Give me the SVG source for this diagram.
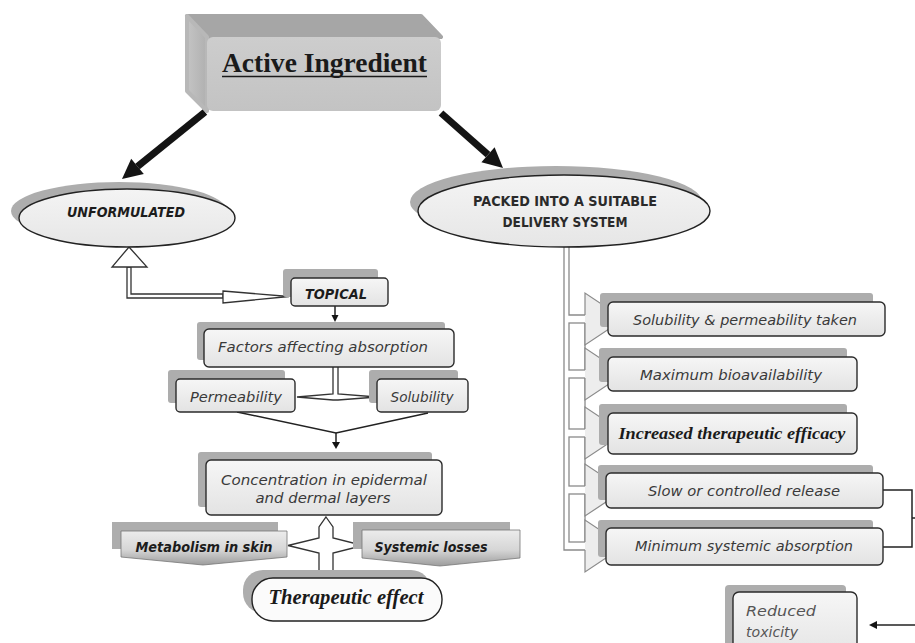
<svg xmlns="http://www.w3.org/2000/svg" width="915" height="643" viewBox="0 0 915 643">
<defs>
<linearGradient id="boxg" x1="0" y1="0" x2="0" y2="1"><stop offset="0" stop-color="#f6f6f6"/><stop offset="1" stop-color="#e3e3e3"/></linearGradient>
<linearGradient id="elg" x1="0" y1="0" x2="0" y2="1"><stop offset="0" stop-color="#f4f4f4"/><stop offset="1" stop-color="#e6e6e6"/></linearGradient>
<linearGradient id="bang" x1="0" y1="0" x2="0" y2="1"><stop offset="0" stop-color="#ececec"/><stop offset="0.55" stop-color="#d6d6d6"/><stop offset="1" stop-color="#9c9c9c"/></linearGradient>
<linearGradient id="actg" x1="0" y1="0" x2="0" y2="1"><stop offset="0" stop-color="#cdcdcd"/><stop offset="1" stop-color="#c3c3c3"/></linearGradient>
<linearGradient id="sideg" x1="0" y1="0" x2="1" y2="0"><stop offset="0" stop-color="#c4c4c4"/><stop offset="1" stop-color="#b0b0b0"/></linearGradient>
</defs>
<style>
.box{fill:url(#boxg);stroke:#2b2b2b;stroke-width:1.4}
.sh{fill:#adadad}
.el{fill:url(#elg);stroke:#222;stroke-width:1.4}
.ban{fill:url(#bang);stroke:#777;stroke-width:0.8}
.t{font-family:"DejaVu Sans","Liberation Sans",sans-serif;font-style:italic;font-size:14px;fill:#3a3a3a;text-anchor:middle}
.tb{font-weight:bold;fill:#1c1c1c}
.up{font-style:normal;font-weight:bold;fill:#2a2a2a;font-size:13.5px}
.scr{font-family:"Liberation Serif","DejaVu Serif",serif;font-style:italic;font-weight:bold;fill:#1a1a1a;text-anchor:middle}
.conn{fill:none;stroke:#8a8a8a;stroke-width:1.3}
.tri{fill:#ededed;stroke:#8a8a8a;stroke-width:1.2}
.hol{fill:#fff;stroke:#333;stroke-width:1.3}
.thin{fill:none;stroke:#222;stroke-width:1.5}
.thick{fill:none;stroke:#141414;stroke-width:7}
.head{fill:#141414}
</style>
<rect width="915" height="643" fill="#fff"/>

<g id="connectors">
  <line class="thick" x1="205" y1="112" x2="137.5" y2="166.4"/>
  <polygon class="head" points="122,179 143.8,174.1 131.2,158.7"/>
  <line class="thick" x1="441" y1="113" x2="488" y2="154.7"/>
  <polygon class="head" points="503,168 481.4,162.2 494.6,147.2"/>
  <path class="hol" d="M127,267 L127,298 L223,298 L223,294 L131,294 L131,267 Z"/>
  <polygon class="hol" points="129,247 147,267 112,267"/>
  <polygon class="hol" points="223,291 289,296.5 223,303"/>
  <line class="thin" x1="335" y1="306" x2="335" y2="316" stroke-width="1.3"/>
  <polygon class="head" points="335,322 331.5,315 338.5,315"/>
  <path class="hol" d="M297,397 L333,394 L333,362 L335.5,357 L338,362 L338,394 L377,397 L338,400 L333,400 Z"/>
  <path class="thin" d="M237,412 L336,433 L428,413"/>
  <line class="thin" x1="336" y1="433" x2="336" y2="443"/>
  <polygon class="head" points="336,449 332,442 340,442"/>
  <path class="hol" d="M326,517 L333,527 L333,538 L363,545.5 L333,553 L333,571 L319,571 L319,553 L288,545.5 L319,538 L319,527 Z"/>
  <path class="conn" d="M564,247 L564,550 L585,550"/>
  <path class="conn" d="M569,247 L569,315 L585,315"/>
  <rect class="conn" x="569" y="323" width="16" height="47"/>
  <rect class="conn" x="569" y="378" width="16" height="51"/>
  <rect class="conn" x="569" y="437" width="16" height="49"/>
  <rect class="conn" x="569" y="494" width="16" height="48"/>
  <path class="tri" d="M585,315 L585,293 L624,319 L585,345 L585,323"/>
  <path class="tri" d="M585,370 L585,348 L624,374 L585,400 L585,378"/>
  <path class="tri" d="M585,429 L585,407 L624,433 L585,459 L585,437"/>
  <path class="tri" d="M585,486 L585,464 L624,490 L585,516 L585,494"/>
  <path class="tri" d="M585,542 L585,520 L624,546 L585,572 L585,550"/>
  <path class="thin" d="M883,490 L912,490 L912,547 L883,547"/>
  <line class="thin" x1="912" y1="518" x2="916" y2="518"/>
  <line class="thin" x1="916" y1="625" x2="876" y2="625"/>
  <polygon class="head" points="869,625 877,621 877,629"/>
</g>

<g id="active-ingredient">
  <polygon points="187,16 421,16 441,37 207,37" fill="#a6a6a6" stroke="#a6a6a6" stroke-width="4" stroke-linejoin="round"/>
  <polygon points="187,16 207,37 207,111 187,91" fill="url(#sideg)" stroke="#b8b8b8" stroke-width="4" stroke-linejoin="round"/>
  <rect x="207" y="37" width="234" height="74" rx="6" fill="url(#actg)"/>
  <text x="324.5" y="72" font-family="'Liberation Serif','Times New Roman',serif" font-weight="bold" font-size="27" fill="#1a1a1a" text-anchor="middle" textLength="205" lengthAdjust="spacingAndGlyphs">Active Ingredient</text>
  <line x1="222" y1="76.5" x2="427" y2="76.5" stroke="#1a1a1a" stroke-width="1.6"/>
</g>

<g id="unformulated">
  <ellipse class="sh" cx="119" cy="211" rx="108" ry="29"/>
  <ellipse class="el" cx="127" cy="218" rx="108" ry="29"/>
  <text class="t tb" x="126" y="217" font-size="15" textLength="118" lengthAdjust="spacingAndGlyphs">UNFORMULATED</text>
</g>

<g id="packed">
  <ellipse class="sh" cx="556" cy="202" rx="146" ry="36"/>
  <ellipse class="el" cx="564" cy="211" rx="146" ry="36"/>
  <text class="t up" x="565" y="206" textLength="184" lengthAdjust="spacingAndGlyphs">PACKED INTO A SUITABLE</text>
  <text class="t up" x="565" y="227" textLength="125" lengthAdjust="spacingAndGlyphs">DELIVERY SYSTEM</text>
</g>

<g id="topical">
  <rect class="sh" x="283" y="269" width="95" height="28" rx="3"/>
  <rect class="box" x="291" y="278" width="97" height="28" rx="4"/>
  <text class="t tb" x="336" y="299" font-size="15" textLength="62" lengthAdjust="spacingAndGlyphs">TOPICAL</text>
</g>

<g id="factors">
  <rect class="sh" x="197" y="322" width="248" height="38" rx="3"/>
  <rect class="box" x="204" y="329" width="250" height="38" rx="5"/>
  <text class="t" x="323" y="352" textLength="210" lengthAdjust="spacingAndGlyphs">Factors affecting absorption</text>
</g>

<g id="permeability">
  <rect class="sh" x="168" y="370" width="117" height="33" rx="3"/>
  <rect class="box" x="176" y="379" width="119" height="33" rx="4"/>
  <text class="t" x="236" y="402" textLength="92" lengthAdjust="spacingAndGlyphs">Permeability</text>
</g>

<g id="solubility">
  <rect class="sh" x="369" y="370" width="89" height="33" rx="3"/>
  <rect class="box" x="377" y="379" width="91" height="33" rx="4"/>
  <text class="t" x="422" y="402" textLength="63" lengthAdjust="spacingAndGlyphs">Solubility</text>
</g>

<g id="concentration">
  <rect class="sh" x="198" y="452" width="234" height="55" rx="3"/>
  <rect class="box" x="206" y="460" width="236" height="55" rx="5"/>
  <text class="t" x="324" y="485" textLength="206" lengthAdjust="spacingAndGlyphs">Concentration in epidermal</text>
  <text class="t" x="323" y="503" textLength="135" lengthAdjust="spacingAndGlyphs">and dermal layers</text>
</g>

<g id="metabolism">
  <rect class="sh" x="112" y="522" width="166" height="27"/>
  <path class="ban" d="M121,531 L287,531 L287,557 L203,565 L121,557 Z"/>
  <text class="t tb" x="204" y="552" textLength="137" lengthAdjust="spacingAndGlyphs">Metabolism in skin</text>
</g>

<g id="systemic-losses">
  <rect class="sh" x="353" y="522" width="157" height="27"/>
  <path class="ban" d="M362,530 L520,530 L520,558 L440,566 L362,558 Z"/>
  <text class="t tb" x="431" y="552" textLength="113" lengthAdjust="spacingAndGlyphs">Systemic losses</text>
</g>

<g id="therapeutic-effect">
  <rect class="sh" x="243" y="570" width="188" height="43" rx="20"/>
  <rect x="252" y="578" width="190" height="43" rx="21" fill="#fbfbfb" stroke="#222" stroke-width="1.4"/>
  <text class="scr" x="346" y="604" font-size="20" textLength="155" lengthAdjust="spacingAndGlyphs">Therapeutic effect</text>
</g>

<g id="solubility-permeability-taken">
  <rect class="sh" x="600" y="293" width="273" height="34" rx="3"/>
  <rect class="box" x="608" y="302" width="277" height="34" rx="5"/>
  <text class="t" x="745" y="325" textLength="224" lengthAdjust="spacingAndGlyphs">Solubility &amp; permeability taken</text>
</g>

<g id="maximum-bioavailability">
  <rect class="sh" x="599" y="348" width="248" height="34" rx="3"/>
  <rect class="box" x="608" y="357" width="249" height="34" rx="5"/>
  <text class="t" x="731" y="380" textLength="182" lengthAdjust="spacingAndGlyphs">Maximum bioavailability</text>
</g>

<g id="increased-efficacy">
  <rect class="sh" x="599" y="404" width="248" height="41" rx="3"/>
  <rect class="box" x="608" y="413" width="249" height="41" rx="5" stroke-width="1.7"/>
  <text class="scr" x="732" y="439" font-size="17" textLength="227" lengthAdjust="spacingAndGlyphs">Increased therapeutic efficacy</text>
</g>

<g id="slow-release">
  <rect class="sh" x="598" y="465" width="275" height="35" rx="3"/>
  <rect class="box" x="606" y="473" width="277" height="35" rx="5"/>
  <text class="t" x="744" y="496" textLength="192" lengthAdjust="spacingAndGlyphs">Slow or controlled release</text>
</g>

<g id="minimum-absorption">
  <rect class="sh" x="598" y="520" width="275" height="37" rx="3"/>
  <rect class="box" x="606" y="528" width="277" height="37" rx="5"/>
  <text class="t" x="744" y="551" textLength="218" lengthAdjust="spacingAndGlyphs">Minimum systemic absorption</text>
</g>

<g id="reduced-toxicity">
  <rect class="sh" x="725" y="585" width="121" height="70" rx="4"/>
  <rect class="box" x="733" y="592" width="124" height="70" rx="6" fill="#fafafa"/>
  <text class="t" x="746" y="616" style="text-anchor:start;fill:#555" textLength="70" lengthAdjust="spacingAndGlyphs">Reduced</text>
  <text class="t" x="746" y="637" style="text-anchor:start;fill:#555" textLength="52" lengthAdjust="spacingAndGlyphs">toxicity</text>
</g>
</svg>
